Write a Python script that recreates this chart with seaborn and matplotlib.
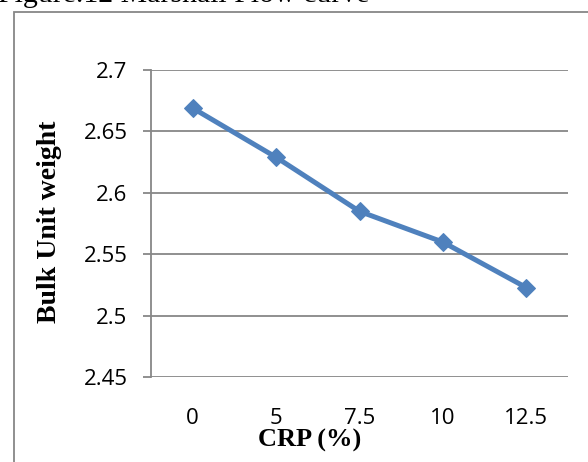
import matplotlib
matplotlib.use("Agg")
import matplotlib.pyplot as plt
from matplotlib.patches import Rectangle
import seaborn as sns
import pandas as pd

# Bulk unit weight against CRP replacement level
crp_levels = ["0", "5", "7.5", "10", "12.5"]
bulk_unit_weight = [2.669, 2.629, 2.585, 2.560, 2.523]
y_ticks = [2.45, 2.5, 2.55, 2.6, 2.65, 2.7]
y_tick_labels = ["2.45", "2.5", "2.55", "2.6", "2.65", "2.7"]

title_text = "Figure.12 Marshall Flow curve"
x_label = "CRP (%)"
y_label = "Bulk Unit weight"

df = pd.DataFrame({"crp": crp_levels, "weight": bulk_unit_weight})

sns.set_theme(style="white")
W, H = 588, 462
fig = plt.figure(figsize=(W / 100, H / 100), dpi=100)
ax = fig.add_axes([151 / W, 1 - 377.3 / H, (568 - 151) / W, (377.3 - 70) / H])

grey = "#878787"
blue = "#4F81BD"

sns.lineplot(data=df, x="crp", y="weight", sort=False, ax=ax,
             color=blue, linewidth=3.6, marker="D", markersize=9.5,
             markeredgecolor=blue, markerfacecolor=blue)

ax.set_xlim(-0.5, len(crp_levels) - 0.5)
ax.set_ylim(y_ticks[0], y_ticks[-1])
ax.set_yticks(y_ticks)
ax.set_yticklabels(y_tick_labels)

# horizontal gridlines only, in grey
ax.yaxis.grid(True, color=grey, linewidth=1.3)
ax.xaxis.grid(False)
ax.set_axisbelow(True)

for side in ["top", "right", "bottom"]:
    ax.spines[side].set_visible(False)
ax.spines["left"].set_color(grey)
ax.spines["left"].set_linewidth(1.3)

ax.tick_params(axis="y", left=True, length=6, width=1.3, color=grey,
               pad=11, labelsize=16, labelcolor="black")
ax.tick_params(axis="x", bottom=False, length=0, pad=22,
               labelsize=16, labelcolor="black")
for lbl in ax.get_xticklabels() + ax.get_yticklabels():
    lbl.set_fontfamily("Open Sans")

ax.set_xlabel(x_label, family="Liberation Serif", fontweight="bold",
              fontsize=19, color="black")
ax.set_ylabel(y_label, family="Liberation Serif", fontweight="bold",
              fontsize=20, color="black")
ax.xaxis.set_label_coords((310 - 151) / 417, -(440 - 377.3) / 307.3)
ax.xaxis.label.set_va("center")
ax.yaxis.set_label_coords((50 - 151) / 417, (377.3 - 222) / 307.3)
ax.yaxis.label.set_va("center")

# outer chart frame, running off the right and bottom edges
fig.add_artist(Rectangle((14 / W, -0.2), 2.0, 1.2 - 12 / H,
                         transform=fig.transFigure, fill=False,
                         edgecolor=grey, linewidth=1.3))

fig.text(-2 / W, 1 - 2.5 / H, title_text, family="Liberation Serif",
         fontsize=21.5, color="black", ha="left", va="baseline")

fig.savefig("out.png", dpi=100)
